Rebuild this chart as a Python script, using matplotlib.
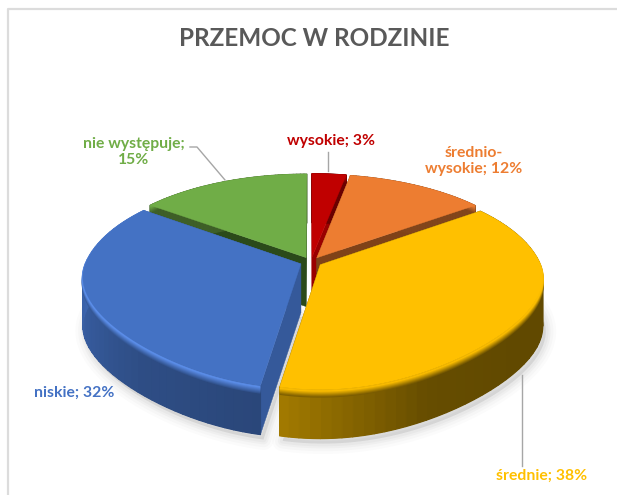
import numpy as np
import matplotlib
matplotlib.use("Agg")
import matplotlib.pyplot as plt
from matplotlib.collections import PolyCollection
from matplotlib.colors import to_rgb

# --- data ---
categories = ["wysokie", "średnio-wysokie", "średnie", "niskie", "nie występuje"]
values = [3, 12, 38, 32, 15]
title = "PRZEMOC W RODZINIE"
top_colors = ["#C00000", "#ED7D31", "#FFC000", "#4472C4", "#70AD47"]
inner_wall_colors = ["#9A0000", "#7F4218", "#6B5200", "#35599A", "#2B4A1A"]
label_lines = ["wysokie; 3%", "średnio-\nwysokie; 12%", "średnie; 38%", "niskie; 32%", "nie występuje;\n15%"]
text_colors = ["#C00000", "#ED7D31", "#FFC000", "#4472C4", "#70AD47"]
text_pos = [(331, 141), (474, 161), (542, 476), (74, 393), (134, 152)]

# --- projection of the tilted pie ---
CX, CY = 311, 262
RX, RY, P, P_LOW = 217, 100, 0.179, 0.19
EXPLODE = 0.05
THICK = 49


def project(u, v):
    u, v = np.asarray(u, float), np.asarray(v, float)
    low = v < 0
    sx = (1 / (1 + P * v) - np.where(low, 0.22 * v ** 2, 0.0)) * (1 + 0.009 * u)
    sy = np.where(low, 1 / (1 + P_LOW * v), 1 / (1 + P * v))
    return CX + RX * u * sx, CY - RY * v * sy


fig = plt.figure(figsize=(6.17, 4.95), dpi=100, facecolor="white")
ax = fig.add_axes([0, 0, 1, 1])
ax.set_xlim(0, 617)
ax.set_ylim(495, 0)
ax.axis("off")

# frame of the pasted chart (top and left edges visible)
ax.plot([7.5, 7.5, 617], [495, 9, 9], color="#DCDCDC", lw=1.6, zorder=1)


def shade(col, f):
    return tuple(min(1, c * f) for c in to_rgb(col))


def mix(a, b, t):
    return tuple(x * (1 - t) + y * t for x, y in zip(a, b))


fracs = np.array(values, float) / sum(values)
edges = np.concatenate([[0], np.cumsum(fracs)]) * 2 * np.pi
order = [4, 0, 1, 3, 2]  # painter's order, back to front

geom = {}
for i in range(len(values)):
    a0, a1 = edges[i], edges[i + 1]
    m = (a0 + a1) / 2
    ox, oy = EXPLODE * np.sin(m), EXPLODE * np.cos(m)
    th = np.linspace(a0, a1, 240)
    ax_, ay_ = project(ox + np.sin(th), oy + np.cos(th))
    apx, apy = project(ox, oy)
    geom[i] = (th, ax_, ay_, float(apx), float(apy))

# soft shadow under the front slices
for i in (3, 2):
    th, xs, ys, apx, apy = geom[i]
    px = np.r_[apx, xs]
    py = np.r_[apy, ys] + THICK
    for w, al in zip((15, 11, 7, 4), (0.03, 0.04, 0.05, 0.06)):
        ax.fill(px + 3, py + 5, facecolor="#808080", edgecolor="#808080",
                lw=w, alpha=al, joinstyle="round", zorder=2)

z = 3
for i in order:
    th, xs, ys, apx, apy = geom[i]
    base = top_colors[i]
    wall = inner_wall_colors[i]
    # side cuts
    for j in (0, -1):
        ax.fill([apx, xs[j], xs[j], apx],
                [apy, ys[j], ys[j] + THICK, apy + THICK],
                facecolor=wall, edgecolor=wall, lw=0.3, zorder=z)
    z += 1
    # outer wall: whole silhouette first, then a horizontal gradient, then the rim
    ax.fill(np.r_[xs, xs[::-1]], np.r_[ys, ys[::-1] + THICK],
            facecolor=shade(base, 0.5), edgecolor="none", zorder=z)
    z += 1
    step = 5
    light = (0.36, 0.56, 0.92) if i == 3 else to_rgb(base)
    polys, cols = [], []
    for k in range(0, len(th) - 1, step):
        deg = np.degrees(th[k])
        if i == 2:
            f = np.interp(deg, [120, 150, 190], [0.38, 0.40, 0.64])
        elif i == 3:
            f = np.interp(deg, [190, 225, 270, 300], [0.62, 0.68, 0.88, 0.95])
        else:
            f = 0.55
        wc = shade(base, f)
        seg_x = xs[k:k + step + 1]
        seg_y = ys[k:k + step + 1]
        polys.append(np.c_[np.r_[seg_x, seg_x[::-1]], np.r_[seg_y + 0.2, seg_y[::-1] + THICK]])
        cols.append(wc)
    ax.add_collection(PolyCollection(polys, facecolors=cols, edgecolors=cols,
                                     linewidths=0.9, zorder=z))
    z += 1
    # bevelled rim as smooth strokes along the top edge
    for d, t in zip((7, 6, 5, 4, 3, 2, 1), (0.9, 0.75, 0.6, 0.45, 0.3, 0.15, 0.0)):
        mean_wall = shade(base, 0.55 if i not in (2, 3) else (0.42 if i == 2 else 0.7))
        ax.plot(xs, ys + d, color=mix(light, mean_wall, t), lw=1.6, alpha=0.85,
                solid_capstyle="butt", zorder=z)
    z += 1
    # top face
    ax.fill(np.r_[apx, xs], np.r_[apy, ys], facecolor=base, edgecolor=base,
            lw=0.3, zorder=z)
    z += 1

# leader lines
leaders = [([328, 328], [152, 171]),
           ([522, 522], [375, 466]),
           ([190, 197, 225], [147, 147, 180])]
for lx, ly in leaders:
    ax.plot(lx, ly, color="#A6A6A6", lw=1.0, zorder=z)

# labels and title
for s, c, (tx, ty) in zip(label_lines, text_colors, text_pos):
    ax.text(tx, ty, s, color=c, fontsize=11.3, fontweight="bold", family="Lato",
            ha="center", va="center", linespacing=1.2, zorder=z + 1)
ax.text(314, 39, title, color="#595959", fontsize=17.5, fontweight="bold",
        family="Lato", ha="center", va="center", zorder=z + 1)

fig.savefig("out.png", dpi=100, facecolor="white")
